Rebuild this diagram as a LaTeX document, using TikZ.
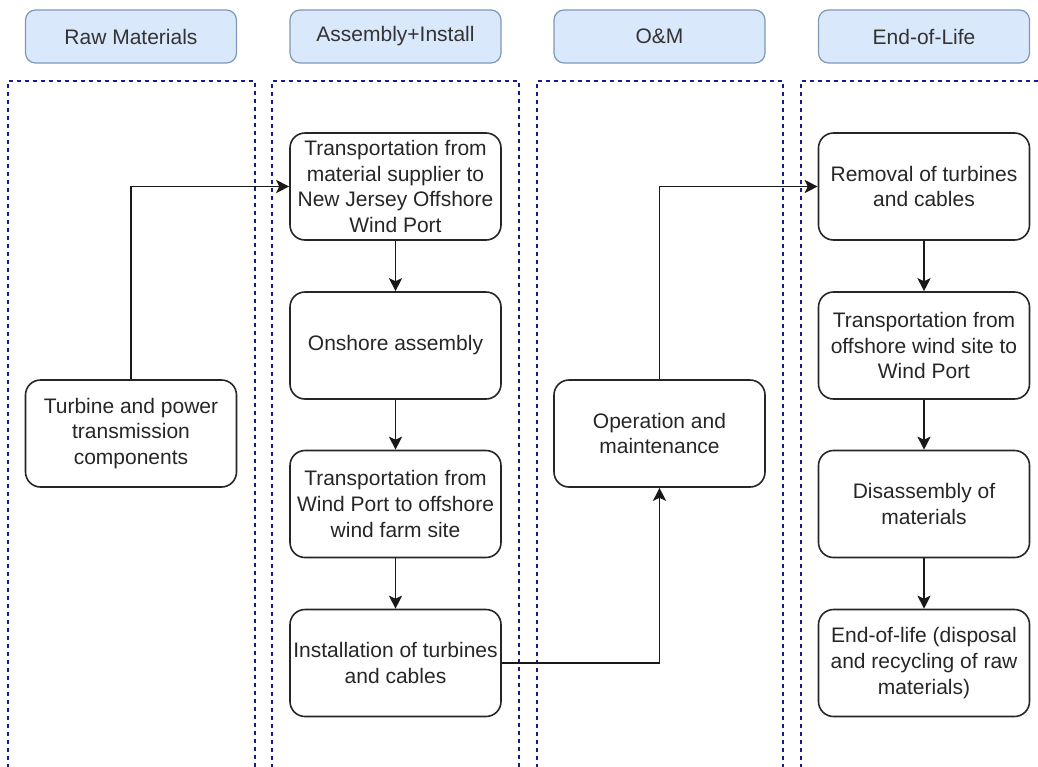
\documentclass[tikz,border=0pt]{standalone}
\usepackage{fontspec}
\setmainfont{Liberation Sans}
\usetikzlibrary{arrows.meta}

\begin{document}
\begin{tikzpicture}[x=0.5pt, y=-0.5pt,
    header/.style={draw=headerline, fill=headerfill, rounded corners=5pt, line width=0.6pt,
      minimum width=105.5pt, minimum height=26.5pt, font=\fontsize{10.5}{12.6}\selectfont, text=black!80},
    stage/.style={draw=black!85, rounded corners=7.5pt, line width=0.8pt, align=center, inner sep=1pt,
      minimum width=105.5pt, minimum height=53.5pt, font=\fontsize{10.5}{12.8}\selectfont, text=black!85},
    lane/.style={draw=lanecolor, dash pattern=on 2.2pt off 1.8pt, line width=0.6pt},
    flow/.style={-{Stealth[length=6.5pt,width=6.5pt,inset=1.5pt]}, line width=0.8pt, black!90}]
  \definecolor{headerfill}{HTML}{DAE8FC}
  \definecolor{headerline}{HTML}{7F97B8}
  \definecolor{lanecolor}{HTML}{1A1A8C}
  \clip (0,0) rectangle (1038,766);

  % swimlanes
  \draw[lane] (8,800) -- (8,81) -- (255,81) -- (255,800);
  \draw[lane] (272,800) -- (272,81) -- (519,81) -- (519,800);
  \draw[lane] (537,800) -- (537,81) -- (783,81) -- (783,800);
  \draw[lane] (801,800) -- (801,81) -- (1060,81) -- (1060,800);

  % lane headers
  \node[header] (h-raw) at (131,36.5) {Raw Materials};
  \node[header] (h-asm) at (395.5,36.5) {Assembly+Install};
  \node[header] (h-om) at (659.5,36.5) {O\&M};
  \node[header] (h-eol) at (924,36.5) {End-of-Life};

  % stages
  \node[stage] (turb) at (131,433.5) {Turbine and power\\transmission\\components};
  \node[stage] (tr1) at (395.5,186.5) {Transportation from\\material supplier to\\New Jersey Offshore\\Wind Port};
  \node[stage] (ons) at (395.5,345.5) {Onshore assembly};
  \node[stage] (tr2) at (395.5,504) {Transportation from\\Wind Port to offshore\\wind farm site};
  \node[stage] (inst) at (395.5,663) {Installation of turbines\\and cables};
  \node[stage] (om) at (659.5,433.5) {Operation and\\maintenance};
  \node[stage] (rem) at (924,186.5) {Removal of turbines\\and cables};
  \node[stage] (tr3) at (924,345.5) {Transportation from\\offshore wind site to\\Wind Port};
  \node[stage] (dis) at (924,504) {Disassembly of\\materials};
  \node[stage] (eol) at (924,663) {End-of-life (disposal\\and recycling of raw\\materials)};

  \path[flow]
    (tr1) edge (ons)
    (ons) edge (tr2)
    (tr2) edge (inst)
    (rem) edge (tr3)
    (tr3) edge (dis)
    (dis) edge (eol);
  \draw[flow] (turb.north) |- (tr1.west);
  \draw[flow] (inst.east) -| (om.south);
  \draw[flow] (om.north) |- (rem.west);
\end{tikzpicture}
\end{document}
